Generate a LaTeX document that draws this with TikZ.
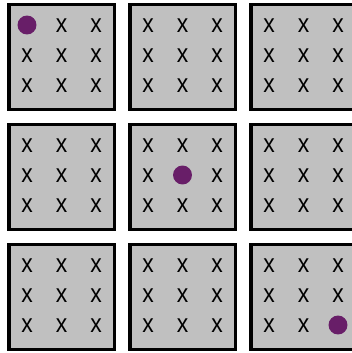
\documentclass[tikz,border=0pt]{standalone}
\usepackage{fontspec}
\setmainfont{Liberation Sans}
\usetikzlibrary{positioning}

\definecolor{boardgray}{RGB}{192,192,192}
\definecolor{tokenpurple}{RGB}{104,30,104}

\begin{document}
\begin{tikzpicture}[x=0.75pt, y=-0.75pt,
    board/.style={draw=black, line width=2.6pt, fill=boardgray, inner sep=0pt, minimum width=79.1pt, minimum height=78.4pt},
    cross/.style={inner sep=0pt, xscale=0.88, font=\fontsize{19.5}{19.5}\selectfont},
    token/.style={circle, fill=tokenpurple, inner sep=0pt, minimum size=14.2pt}]
  \useasboundingbox (0,0) rectangle (352,353);
  % the nine boards
  \foreach \r in {0,1,2} {
    \foreach \c in {0,1,2} {
      \node[board] (b\r\c) at (61.5+121*\c, 57+120*\r) {};
    }
  }
  % cells: a token where board and cell lie on the diagonal, else an x
  \foreach \r in {0,1,2} {
    \foreach \c in {0,1,2} {
      \foreach \i in {0,1,2} {
        \foreach \j in {0,1,2} {
          \pgfmathtruncatemacro\istoken{(\r==\c)&&(\c==\i)&&(\i==\j)}
          \ifnum\istoken=1
            \node[token] (m\r\c\i\j) at ([shift={(-34.5+34.5*\j, -32+30*\i)}]b\r\c.center) {};
          \else
            \node[cross] (m\r\c\i\j) at ([shift={(-34.5+34.5*\j, -31+30*\i)}]b\r\c.center) {x};
          \fi
        }
      }
    }
  }
\end{tikzpicture}
\end{document}
